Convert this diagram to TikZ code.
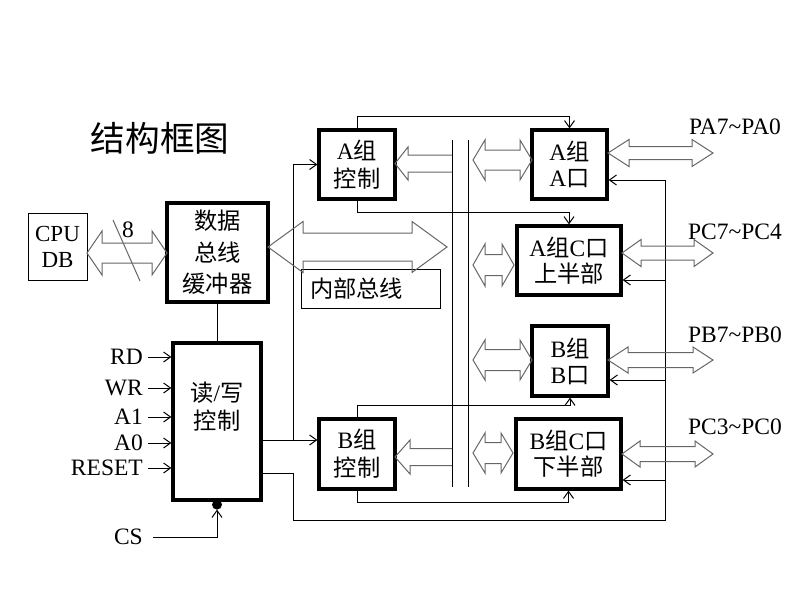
\documentclass[tikz,border=0pt]{standalone}
\usepackage{fontspec}
\setmainfont{Liberation Serif}
\newfontfamily\cjk[Scale=0.99]{Noto Sans CJK SC}
\usetikzlibrary{arrows.meta}
\newcommand{\zh}[1]{{\cjk #1}}

% hollow bus arrow, both ends: left tip, right tip, y, shaft half, head half, head length
\newcommand{\busboth}[6]{%
  \draw[bus] (#1,#3) -- ++(#6,-#5) -- ++(0,#5-#4) -- (#2-#6,#3-#4)
    -- ++(0,#4-#5) -- (#2,#3) -- ++(-#6,#5) -- ++(0,#4-#5)
    -- (#1+#6,#3+#4) -- ++(0,#5-#4) -- cycle;}
% hollow bus arrow pointing left: tip, tail, y, shaft half, head half, head length
\newcommand{\busleft}[6]{%
  \draw[bus] (#2,#3-#4) -- (#1+#6,#3-#4) -- ++(0,#4-#5) -- (#1,#3)
    -- ++(#6,#5) -- ++(0,#4-#5) -- (#2,#3+#4);}

\begin{document}
\begin{tikzpicture}[x=1pt,y=-1pt,
    font=\fontsize{23.5}{28}\selectfont,
    box/.style={draw,line width=3.2pt,inner sep=0pt,align=center},
    wire/.style={line width=1pt},
    sig/.style={wire,-{Straight Barb[length=7pt,width=10pt]}},
    bus/.style={draw=black!60,line width=1pt},
    lbl/.style={inner sep=0pt}]
    \useasboundingbox (0,0) rectangle (800,600);

    \node[font=\cjk\fontsize{35}{40}\selectfont] (title) at (160,138) {结构框图};

    % left side
    \node[draw,wire,inner sep=0pt,align=center,minimum width=59pt,minimum height=67pt,
      font=\fontsize{23}{26}\selectfont] (cpu) at (57.5,246.5) {CPU\\DB};
    \node[box,minimum width=101pt,minimum height=99pt,font=\fontsize{23.5}{31.5}\selectfont]
      (buf) at (217.5,252.5) {\zh{数据}\\\zh{总线}\\\zh{缓冲器}};
    \node[box,minimum width=88pt,minimum height=157pt] (rw) at (217,421.5) {};
    \node[align=center] (rwtext) at ([yshift=15pt]rw.center) {\zh{读}/\zh{写}\\\zh{控制}};

    % group control
    \node[box,minimum width=76pt,minimum height=69pt] (ctlA) at (357,164.5) {A\zh{组}\\\zh{控制}};
    \node[box,minimum width=76pt,minimum height=70pt] (ctlB) at (357,454) {B\zh{组}\\\zh{控制}};

    % ports
    \node[box,minimum width=75pt,minimum height=69pt,font=\fontsize{23.5}{26}\selectfont]
      (portA) at (569.5,164.5) {A\zh{组}\\A\zh{口}};
    \node[box,minimum width=104pt,minimum height=69pt,font=\fontsize{23.5}{26}\selectfont]
      (portCU) at (569,260.5) {A\zh{组}C\zh{口}\\\zh{上半部}};
    \node[box,minimum width=76pt,minimum height=70pt,font=\fontsize{23.5}{26}\selectfont]
      (portB) at (570,361) {B\zh{组}\\B\zh{口}};
    \node[box,minimum width=105pt,minimum height=70pt,font=\fontsize{23.5}{26}\selectfont]
      (portCL) at (568.5,454) {B\zh{组}C\zh{口}\\\zh{下半部}};

    \node[draw,wire,minimum width=139pt,minimum height=39pt] (inbus) at (370.5,288.5) {};
    \node[lbl,anchor=west] (inbustext) at (310,288.5) {\zh{内部总线}};

    \node[lbl] (pa) at (735,127) {PA7\textasciitilde PA0};
    \node[lbl] (pchi) at (735,232) {PC7\textasciitilde PC4};
    \node[lbl] (pb) at (735,335) {PB7\textasciitilde PB0};
    \node[lbl] (pclo) at (735,427) {PC3\textasciitilde PC0};
    \node[lbl] (width) at (128,229.5) {8};

    % inputs of read/write control
    \foreach \nm/\txt/\y in {rd/RD/357, wr/WR/388, aone/A1/417, azero/A0/443, reset/RESET/468} {
        \node[lbl,anchor=east] (\nm) at (143,\y) {\txt};
        \draw[sig] (\nm.east) ++(5,0) -- (\nm -| rw.west);
    }
    \node[lbl,anchor=east] (cs) at (143,537) {CS};
    \coordinate (csdot) at ([yshift=-8pt]rw.south);
    \draw[sig] (cs.east) ++(10,0) -| (csdot);
    \fill (rw.south) ++(0,3) circle (5pt);

    \draw[wire] (buf.south) -- (buf.south |- rw.north);

    % internal bus
    \draw[wire] (452,140) -- (452,487);
    \draw[wire] (468,140) -- (468,487);

    % control lines
    \coordinate (tapA) at (293,440);
    \coordinate (tapB) at (293,473);
    \coordinate (loopSW) at (293,520);
    \coordinate (loopSE) at (665,520);
    \coordinate (fbA) at (665,180);
    \coordinate (fbCU) at (665,280);
    \coordinate (fbB) at (665,380);
    \coordinate (fbCL) at (665,480);

    \draw[sig] (rw.east |- tapA) -- (tapA -| ctlB.west);
    \draw[sig] (tapA) |- (ctlA.west);
    \draw[wire] (rw.east |- tapB) -| (loopSW) -- (loopSE) -- (fbA);
    \foreach \c/\p in {fbA/portA, fbCU/portCU, fbB/portB, fbCL/portCL}
        \draw[sig] (\c) -- (\c -| \p.east);

    \draw[sig] (ctlA.north) -- ++(0,-12) -| (portA.north);
    \draw[sig] (ctlA.south) -- ++(0,12) -| (portCU.north);
    \draw[sig] (ctlB.north) -- ++(0,-12) -| (portB.south);
    \draw[sig] (ctlB.south) -- ++(0,12) -| (portCL.south);

    % data paths
    \busboth{87}{167}{253}{10}{22}{15}
    \draw[bus] (113,220) -- (140,281);
    \busboth{268}{447}{247}{14}{25.5}{35}
    \busleft{395}{452}{163.5}{8.5}{16.5}{13}
    \busleft{395}{452}{457}{8.5}{17}{15}
    \busboth{473}{532}{160}{10}{20}{12}
    \busboth{473}{514}{265}{10.5}{21}{12}
    \busboth{473}{532}{360}{10.5}{20}{12}
    \busboth{473}{513}{453}{10.5}{20}{12}
    \busboth{608}{713}{153}{6.5}{13.5}{21}
    \busboth{622}{713}{253}{7}{13.5}{19}
    \busboth{608}{713}{360}{7.5}{13}{20}
    \busboth{622}{713}{454}{7.5}{13}{18}
\end{tikzpicture}
\end{document}
